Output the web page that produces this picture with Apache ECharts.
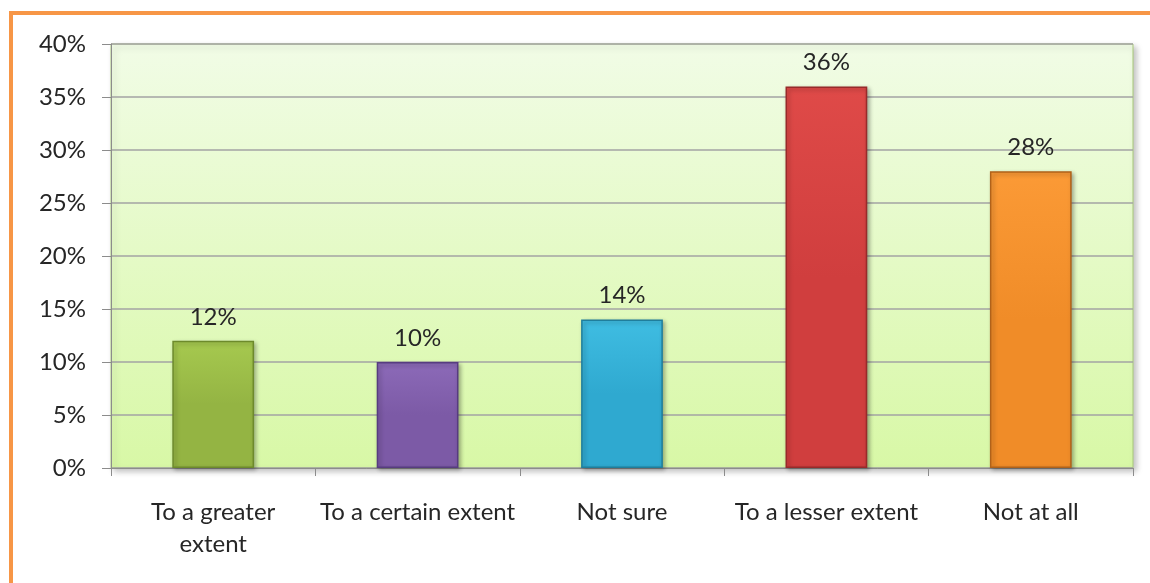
<!DOCTYPE html>
<html><head><meta charset="utf-8">
<script src="https://cdn.jsdelivr.net/npm/echarts@6/dist/echarts.min.js"></script>
<style>html,body{margin:0;padding:0;background:#fff;}#c{width:1150px;height:583px;}</style>
</head><body><div id="c"></div>
<script>
const categories = ['To a greater\nextent', 'To a certain extent', 'Not sure', 'To a lesser extent', 'Not at all'];
const values = [12, 10, 14, 36, 28];
const yTicks = [0, 5, 10, 15, 20, 25, 30, 35, 40];
const barColors = [
  ['#a6c94f', '#94b443', '#6d8a2c'],
  ['#8c6ab8', '#7c5aa6', '#573c80'],
  ['#3fbde2', '#2fa9d0', '#1f7e9c'],
  ['#df4a48', '#d03e3e', '#982a2a'],
  ['#fb9a36', '#f08c28', '#b0621a']
];

const chart = echarts.init(document.getElementById('c'));
const fontFam = 'Lato, "Open Sans", sans-serif';
chart.setOption({
  animation: false,
  graphic: [
    {type: 'rect', shape: {x: 9, y: 11, width: 1141, height: 4}, style: {fill: '#f79646'}, z: 10},
    {type: 'rect', shape: {x: 9, y: 11, width: 4, height: 572}, style: {fill: '#f79646'}, z: 10}
  ],
  grid: {
    left: 111, right: 17, top: 44, bottom: 115,
    show: true,
    backgroundColor: {type: 'linear', x: 0, y: 0, x2: 0, y2: 1,
      colorStops: [{offset: 0, color: '#f1fce6'}, {offset: 1, color: '#d8f8a6'}]},
    borderColor: '#a9c97a', borderWidth: 1,
    shadowColor: 'rgba(0,0,0,0.25)', shadowBlur: 6, shadowOffsetX: 3, shadowOffsetY: 3
  },
  xAxis: {
    type: 'category', data: categories,
    axisLine: {show: true, lineStyle: {color: '#8c8c8c', width: 1}},
    axisTick: {show: true, length: 8, alignWithLabel: false, lineStyle: {color: '#8c8c8c'}},
    axisLabel: {color: '#262626', fontSize: 24, fontFamily: fontFam, margin: 28, lineHeight: 32, interval: 0}
  },
  yAxis: {
    type: 'value', min: 0, max: 40, interval: 5,
    axisLine: {show: true, lineStyle: {color: '#8c8c8c', width: 1}},
    axisTick: {show: true, length: 9, inside: false, lineStyle: {color: '#8c8c8c'}},
    splitLine: {show: true, lineStyle: {color: '#a3a3a3', width: 1.5}},
    axisLabel: {color: '#262626', fontSize: 24, fontFamily: fontFam, margin: 25,
      formatter: v => yTicks.includes(v) ? v + '%' : ''}
  },
  series: [{
    type: 'bar', barWidth: '40%',
    data: values.map((v, i) => ({
      value: v,
      itemStyle: {
        color: {type: 'linear', x: 0, y: 0, x2: 0, y2: 1,
          colorStops: [{offset: 0, color: barColors[i][0]}, {offset: 0.5, color: barColors[i][1]},
                       {offset: 1, color: barColors[i][1]}]},
        borderColor: barColors[i][2], borderWidth: 1.5,
        shadowColor: 'rgba(0,0,0,0.3)', shadowBlur: 4, shadowOffsetX: 2, shadowOffsetY: 2
      }
    })),
    label: {show: true, position: 'top', distance: 12, color: '#262626', fontSize: 24, fontFamily: fontFam,
      formatter: p => p.value + '%'}
  }]
});
</script></body></html>
